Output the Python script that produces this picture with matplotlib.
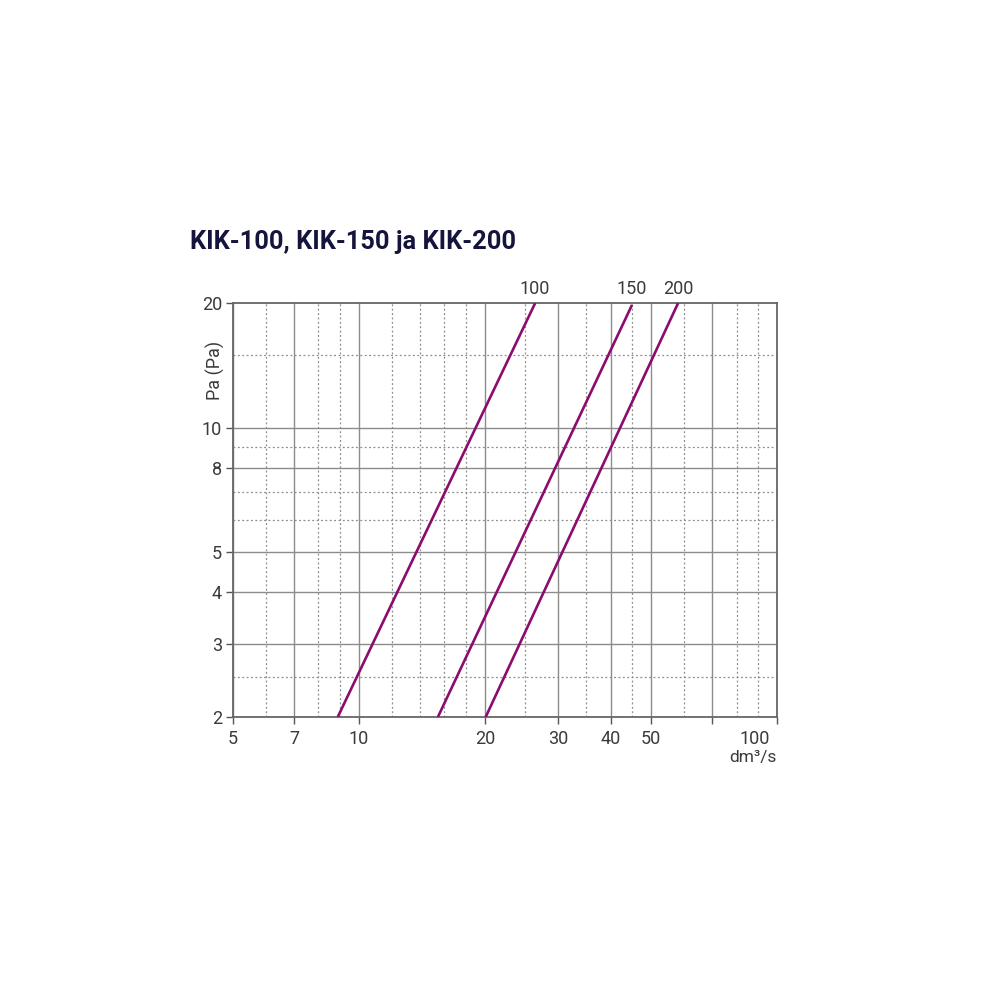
import matplotlib
matplotlib.use('Agg')
import matplotlib.pyplot as plt
from matplotlib.ticker import FixedLocator, NullFormatter, NullLocator
from matplotlib.transforms import ScaledTranslation

plt.rcParams['font.family'] = ['Roboto', 'DejaVu Sans']

# luetut arvot kuvasta (virtaus dm3/s, painehäviö Pa)
sizes = ['100', '150', '200']
flow_start = [8.9, 15.45, 20.1]
flow_end = [26.4, 45.0, 58.0]
pa_start = [2, 2, 2]
pa_end = [20, 19.8, 20]

x_major = [5, 7, 10, 20, 30, 40, 50, 70]
x_minor = [6, 8, 9, 12, 14, 16, 18, 25, 35, 45, 60, 80, 90]
x_labels = ['5', '7', '10', '20', '30', '40', '50', '']
y_major = [3, 4, 5, 8, 10]
y_minor = [2.5, 6, 7, 9, 15]
y_ticks = [2, 3, 4, 5, 8, 10, 20]

line_col = '#8B0C6E'
grid_col = '#8c8c8c'
txt_col = '#3a3a3a'

fig = plt.figure(figsize=(9.92, 9.92), dpi=100)
ax = fig.add_axes([0.2349, 0.2772, 0.5484, 0.4173])
ax.set_xscale('log')
ax.set_yscale('log')
ax.set_xlim(5, 100)
ax.set_ylim(2, 20)

# ruudukko
for v in x_major:
    ax.axvline(v, color=grid_col, lw=1.0, zorder=1)
for v in x_minor:
    ax.axvline(v, color=grid_col, lw=0.9, ls=(0, (1.5, 2)), zorder=1)
for v in y_major:
    ax.axhline(v, color=grid_col, lw=1.0, zorder=1)
for v in y_minor:
    ax.axhline(v, color=grid_col, lw=0.9, ls=(0, (1.5, 2)), zorder=1)

for i in range(len(sizes)):
    ax.plot([flow_start[i], flow_end[i]], [pa_start[i], pa_end[i]],
            color=line_col, lw=1.9, zorder=3, solid_capstyle='butt')
    ax.text(flow_end[i], 20.6, sizes[i], ha='center', va='bottom',
            fontsize=13, color=txt_col)

ax.xaxis.set_major_locator(FixedLocator(x_major + [100]))
ax.xaxis.set_minor_locator(NullLocator())
ax.xaxis.set_minor_formatter(NullFormatter())
ax.set_xticklabels(x_labels + ['100'])
ax.yaxis.set_major_locator(FixedLocator(y_ticks))
ax.yaxis.set_minor_locator(NullLocator())
ax.yaxis.set_minor_formatter(NullFormatter())
ax.set_yticklabels([str(v) for v in y_ticks])
ax.tick_params(axis='both', colors='#555555', labelcolor=txt_col,
               labelsize=13, length=5, width=1.0)
ax.tick_params(axis='x', pad=4)
ax.tick_params(axis='y', pad=3)
for lab in ax.get_xticklabels():
    if lab.get_text() == '100':
        lab.set_horizontalalignment('right')
        lab.set_transform(lab.get_transform() + ScaledTranslation(-0.07, 0, fig.dpi_scale_trans))

for sp in ax.spines.values():
    sp.set_color('#666666')
    sp.set_linewidth(1.3)

ax.text(-0.033, 0.838, 'Pa (Pa)', transform=ax.transAxes, rotation=90,
        ha='center', va='center', fontsize=13, color=txt_col)
ax.text(1.0, -0.08, 'dm³/s', transform=ax.transAxes, ha='right', va='top',
        fontsize=12.5, color=txt_col)

fig.text(0.1915, 0.756, 'KIK-100, KIK-150 ja KIK-200', ha='left', va='center',
         fontsize=18.3, fontweight='bold', color='#14143c')

fig.savefig('out.png', dpi=100, facecolor='white')
